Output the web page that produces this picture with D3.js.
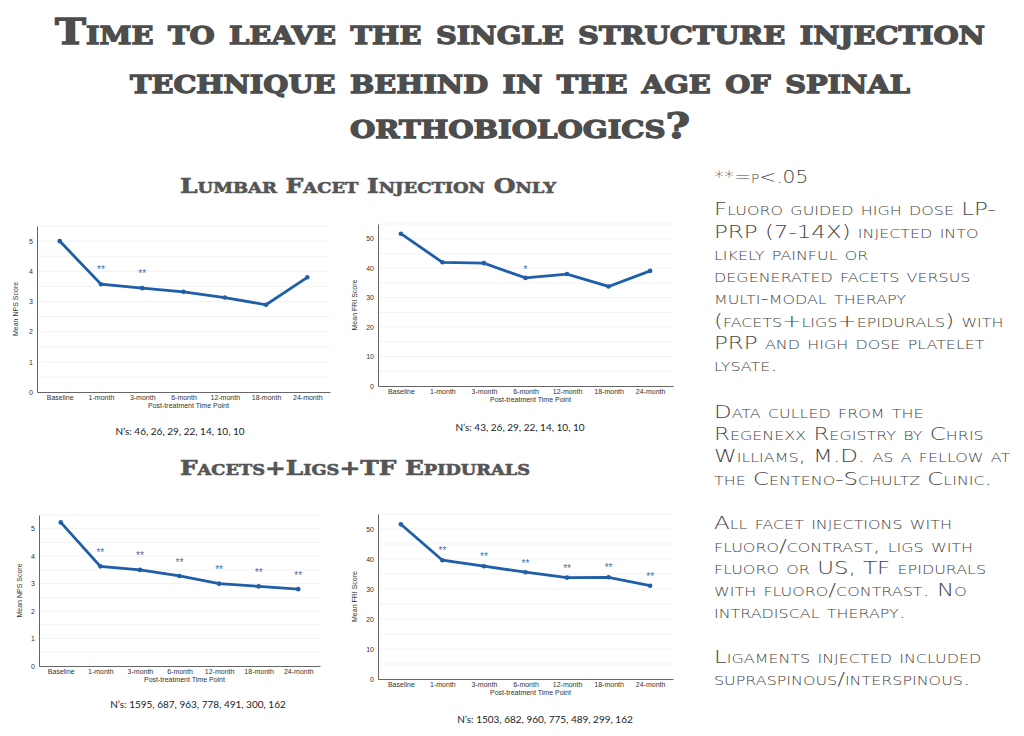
<!DOCTYPE html>
<html>
<head>
<meta charset="utf-8">
<script src="https://cdn.jsdelivr.net/npm/d3@7/dist/d3.min.js"></script>
<style>
body { margin: 0; background: #fff; }
</style>
</head>
<body>
<script>
// time points shared by all four charts
var timePoints = ["Baseline", "1-month", "3-month", "6-month", "12-month", "18-month", "24-month"];

// lumbar facet injection only
var npsLumbar = [5.0, 3.57, 3.44, 3.32, 3.13, 2.89, 3.80];
var friLumbar = [51.7, 42.0, 41.7, 36.7, 38.0, 33.8, 39.1];
var npsLumbarStars = [null, 4.14, 4.0, null, null, null, null];
var friLumbarStars = [null, null, null, 40.4, null, null, null];

// facets + ligs + TF epidurals
var npsMulti = [5.23, 3.63, 3.50, 3.28, 3.00, 2.90, 2.80];
var friMulti = [51.6, 39.6, 37.6, 35.6, 33.8, 33.9, 31.1];
var npsMultiStars = [null, 4.21, 4.09, 3.86, 3.59, 3.48, 3.38];
var friMultiStars = [null, 43.4, 41.4, 39.3, 37.6, 37.8, 34.9];

var nLumbarNps = "N\u2019s: 46, 26, 29, 22, 14, 10, 10";
var nLumbarFri = "N\u2019s: 43, 26, 29, 22, 14, 10, 10";
var nMultiNps = "N\u2019s: 1595, 687, 963, 778, 491, 300, 162";
var nMultiFri = "N\u2019s: 1503, 682, 960, 775, 489, 299, 162";

var npsTicks = [0, 1, 2, 3, 4, 5];
var friTicks = [0, 10, 20, 30, 40, 50];

var titleLines = ["Time to leave the single structure injection",
                  "technique behind in the age of spinal",
                  "orthobiologics?"];
var subTitles = ["Lumbar Facet Injection Only", "Facets+Ligs+TF Epidurals"];

var notePara = [
    ["Fluoro guided high dose LP-", "PRP (7-14X) injected into", "likely painful or",
     "degenerated facets versus", "multi-modal therapy", "(facets+ligs+epidurals) with",
     "PRP and high dose platelet", "lysate."],
    ["Data culled from the", "Regenexx Registry by Chris", "Williams, M.D. as a fellow at",
     "the Centeno-Schultz Clinic."],
    ["All facet injections with", "fluoro/contrast, ligs with", "fluoro or US, TF epidurals",
     "with fluoro/contrast. No", "intradiscal therapy."],
    ["Ligaments injected included", "supraspinous/interspinous."]
];

var svg = d3.select("body").append("svg")
    .attr("width", 1024)
    .attr("height", 736);

// main title
var titleGeo = [{x0: 55, x1: 985, y: 44}, {x0: 130, x1: 910, y: 93}, {x0: 350, x1: 690, y: 138}];
svg.selectAll(".title")
    .data(titleLines)
    .enter().append("text")
    .attr("class", "title")
    .attr("x", function (d, i) { return titleGeo[i].x0; })
    .attr("y", function (d, i) { return titleGeo[i].y; })
    .attr("textLength", function (d, i) { return titleGeo[i].x1 - titleGeo[i].x0; })
    .attr("lengthAdjust", "spacingAndGlyphs")
    .style("font-family", "'DejaVu Serif', serif")
    .style("font-weight", "bold")
    .style("font-variant", "small-caps")
    .style("font-size", "36px")
    .style("fill", "#4d4d4d")
    .style("stroke", "#4d4d4d")
    .style("stroke-width", 1.3)
    .text(function (d) { return d; });

var subGeo = [{x0: 180, x1: 556, y: 193}, {x0: 180, x1: 530, y: 475}];
svg.selectAll(".subtitle")
    .data(subTitles)
    .enter().append("text")
    .attr("class", "subtitle")
    .attr("x", function (d, i) { return subGeo[i].x0; })
    .attr("y", function (d, i) { return subGeo[i].y; })
    .attr("textLength", function (d, i) { return subGeo[i].x1 - subGeo[i].x0; })
    .attr("lengthAdjust", "spacingAndGlyphs")
    .style("font-family", "'DejaVu Serif', serif")
    .style("font-weight", "bold")
    .style("font-variant", "small-caps")
    .style("font-size", "21px")
    .style("fill", "#555")
    .style("stroke", "#555")
    .style("stroke-width", 0.6)
    .text(function (d) { return d; });

function drawChart(cfg) {
    var g = svg.append("g");
    var x = d3.scalePoint().domain(timePoints).range([cfg.left, cfg.right]).padding(0.55);
    var y = d3.scaleLinear().domain([0, cfg.yMax]).range([cfg.bottom, cfg.top]);

    // faint grid
    var grid = d3.range(cfg.yMax / 11, cfg.yMax + 0.001, cfg.yMax / 11);
    g.selectAll(".grid").data(grid).enter().append("line")
        .attr("x1", cfg.left).attr("x2", cfg.right)
        .attr("y1", function (d) { return y(d); })
        .attr("y2", function (d) { return y(d); })
        .attr("stroke", "#f3f3f3");

    g.append("g")
        .attr("transform", "translate(" + cfg.left + ",0)")
        .call(d3.axisLeft(y).tickValues(cfg.ticks).tickFormat(d3.format("d")).tickSize(0).tickPadding(4));
    g.append("g")
        .attr("transform", "translate(0," + cfg.bottom + ")")
        .call(d3.axisBottom(x).tickSize(0).tickPadding(3));
    g.selectAll(".domain").attr("stroke", "#666");
    g.selectAll(".tick text")
        .style("font-family", "'Liberation Sans', Arial, sans-serif")
        .style("font-size", "7px")
        .style("fill", "#333");

    g.append("text")
        .attr("transform", "translate(" + cfg.yLabelX + "," + (cfg.top + cfg.bottom) / 2 + ") rotate(-90)")
        .attr("text-anchor", "middle")
        .attr("dy", "0.35em")
        .style("font-family", "'Liberation Sans', Arial, sans-serif")
        .style("font-size", "7px")
        .style("fill", "#333")
        .text(cfg.yLabel);

    g.append("text")
        .attr("x", (cfg.left + cfg.right) / 2 + 5)
        .attr("y", cfg.bottom + 16)
        .attr("text-anchor", "middle")
        .style("font-family", "'Liberation Sans', Arial, sans-serif")
        .style("font-size", "7px")
        .style("fill", "#333")
        .text("Post-treatment Time Point");

    var line = d3.line()
        .x(function (d, i) { return x(timePoints[i]); })
        .y(function (d) { return y(d); });
    g.append("path")
        .datum(cfg.values)
        .attr("d", line)
        .attr("fill", "none")
        .attr("stroke", "#1f5ea8")
        .attr("stroke-width", 2.8);
    g.selectAll(".pt").data(cfg.values).enter().append("circle")
        .attr("cx", function (d, i) { return x(timePoints[i]); })
        .attr("cy", function (d) { return y(d); })
        .attr("r", 2.3)
        .attr("fill", "#1f5ea8");

    var starIdx = d3.range(cfg.stars.length).filter(function (i) { return cfg.stars[i] !== null; });
    g.selectAll(".star").data(starIdx).enter()
        .append("text")
        .attr("x", function (i) { return x(timePoints[i]); })
        .attr("y", function (i) { return y(cfg.stars[i]) + 5.5; })
        .attr("text-anchor", "middle")
        .style("font-family", "'Liberation Sans', Arial, sans-serif")
        .style("font-size", "10px")
        .style("fill", "#3f72b0")
        .text(cfg.starText);

    g.append("text")
        .attr("x", cfg.nX)
        .attr("y", cfg.nY)
        .attr("text-anchor", "middle")
        .style("font-family", "Lato, 'Open Sans', sans-serif")
        .style("font-size", "10px")
        .style("fill", "#222")
        .text(cfg.nText);
}

drawChart({values: npsLumbar, stars: npsLumbarStars, starText: "**", yMax: 5.5, ticks: npsTicks,
    left: 37, right: 330, top: 226, bottom: 392, yLabelX: 16, yLabel: "Mean NPS Score",
    nX: 180, nY: 435, nText: nLumbarNps});
drawChart({values: friLumbar, stars: friLumbarStars, starText: "*", yMax: 55, ticks: friTicks,
    left: 378, right: 673, top: 224, bottom: 386, yLabelX: 355, yLabel: "Mean FRI Score",
    nX: 520, nY: 431, nText: nLumbarFri});
drawChart({values: npsMulti, stars: npsMultiStars, starText: "**", yMax: 5.5, ticks: npsTicks,
    left: 39, right: 320, top: 515, bottom: 666, yLabelX: 20, yLabel: "Mean NPS Score",
    nX: 198, nY: 708, nText: nMultiNps});
drawChart({values: friMulti, stars: friMultiStars, starText: "**", yMax: 55, ticks: friTicks,
    left: 378, right: 673, top: 514, bottom: 679, yLabelX: 355, yLabel: "Mean FRI Score",
    nX: 545, nY: 723, nText: nMultiFri});

// notes on the right
var noteStyle = function (sel, size) {
    sel.style("font-family", "'DejaVu Sans', sans-serif")
        .style("font-weight", 200)
        .style("font-variant", "small-caps")
        .style("font-size", size)
        .style("fill", "#444");
};

svg.append("g")
    .attr("transform", "translate(714,183) scale(1.12,1)")
    .append("text")
    .call(noteStyle, "18px")
    .text("**=p<.05");

var paraTop = [209.3, 411.7, 523.3, 656.7];
var notes = svg.append("g").attr("transform", "translate(714,0) scale(1.35,1)");
notePara.forEach(function (lines, p) {
    notes.selectAll(".note" + p)
        .data(lines)
        .enter().append("text")
        .attr("x", 0)
        .attr("y", function (d, i) { return paraTop[p] + i * 22.3 + 6; })
        .call(noteStyle, "17px")
        .text(function (d) { return d; });
});
</script>
</body>
</html>
